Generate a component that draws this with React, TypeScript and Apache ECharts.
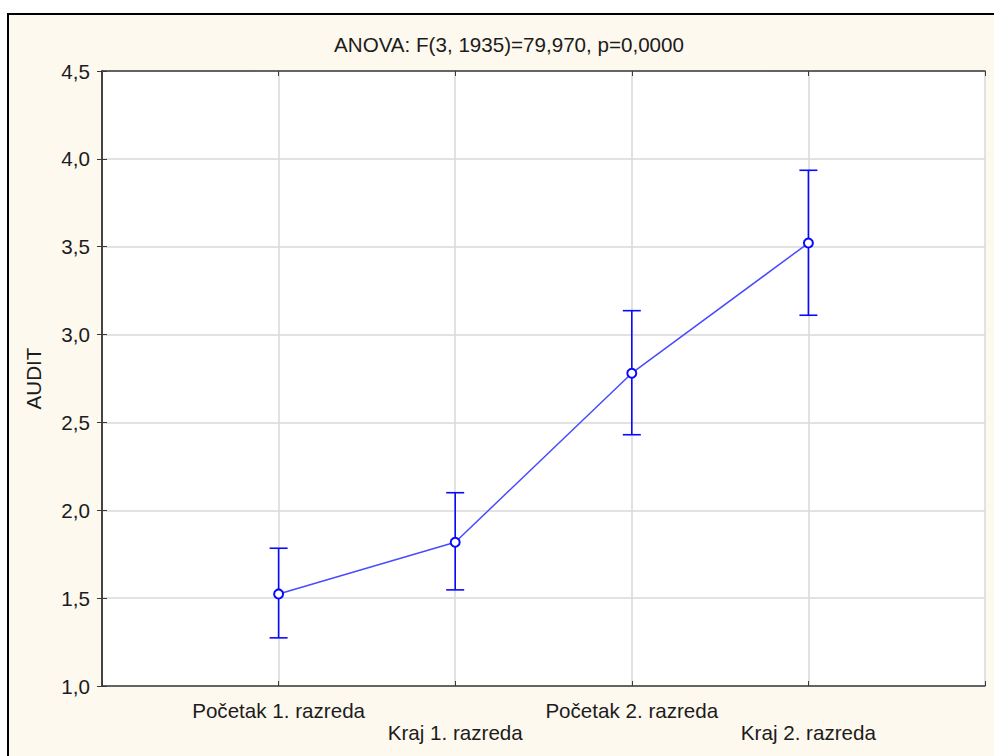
import React, { useEffect, useRef } from "react";
import * as echarts from "echarts";

const categories = ["Početak 1. razreda", "Kraj 1. razreda", "Početak 2. razreda", "Kraj 2. razreda"];
const means = [1.524, 1.818, 2.78, 3.521];
const lower = [1.274, 1.547, 2.43, 3.11];
const upper = [1.784, 2.1, 3.136, 3.935];
const yTicks = { min: 1.0, max: 4.5, step: 0.5 };
const titleText = "ANOVA: F(3, 1935)=79,970, p=0,0000";
const yName = "AUDIT";

const FONT = "Liberation Sans, Arial, sans-serif";
const FS = 20.6;
const TXT = "#1c1c1c";
const BLUE = "#0a0aff";

export default function App() {
  const ref = useRef<HTMLDivElement>(null);
  useEffect(() => {
    if (!ref.current) return;
    const chart = echarts.init(ref.current, null, { renderer: "svg" });
    const pos = categories.map((_, i) => i + 1);
    const lineData = means.map((m, i) => [pos[i], m]);
    const errData = means.map((_, i) => [pos[i], lower[i], upper[i]]);
    const axisLine = { show: true, lineStyle: { color: "#3a3a3a", width: 1.5 } };
    const tick = { show: true, inside: true, length: 5, lineStyle: { color: "#3a3a3a", width: 1 } };
    chart.setOption({
      animation: false,
      backgroundColor: "#ffffff",
      textStyle: { fontFamily: FONT },
      graphic: [
        {
          type: "rect",
          z: -100,
          shape: { x: 8, y: 14, width: 1010, height: 800 },
          style: { fill: "#fef9ee", stroke: "#000000", lineWidth: 2 },
        },
      ],
      title: {
        text: titleText,
        left: 504,
        textAlign: "center",
        top: 29,
        textStyle: { fontFamily: FONT, fontSize: FS, fontWeight: "normal", color: TXT },
      },
      grid: { left: 102, right: 9, top: 71, bottom: 70, show: true, backgroundColor: "#ffffff", borderWidth: 0 },
      xAxis: [
        {
          type: "value",
          min: 0,
          max: 5,
          interval: 1,
          position: "bottom",
          axisLine,
          axisTick: tick,
          splitLine: { show: true, lineStyle: { color: "#d9d9d9", width: 1.5 } },
          axisLabel: {
            margin: 13,
            fontSize: FS,
            lineHeight: 22,
            color: TXT,
            fontFamily: FONT,
            showMinLabel: true,
            showMaxLabel: true,
            formatter: (v: number) => {
              const i = Math.round(v) - 1;
              if (i < 0 || i >= categories.length) return "";
              return i % 2 === 0 ? categories[i] : "\n" + categories[i];
            },
          },
        },
        {
          type: "value",
          min: 0,
          max: 5,
          interval: 1,
          position: "top",
          axisLine,
          axisTick: tick,
          splitLine: { show: false },
          axisLabel: { show: false },
        },
      ],
      yAxis: [
        {
          type: "value",
          min: yTicks.min,
          max: yTicks.max,
          interval: yTicks.step,
          position: "left",
          name: yName,
          nameLocation: "middle",
          nameRotate: 90,
          nameGap: 58,
          nameTextStyle: { fontFamily: FONT, fontSize: FS, color: TXT },
          axisLine,
          axisTick: tick,
          splitLine: { show: true, lineStyle: { color: "#d9d9d9", width: 1.5 } },
          axisLabel: {
            margin: 12,
            fontSize: FS,
            color: TXT,
            fontFamily: FONT,
            formatter: (v: number) => v.toFixed(1).replace(".", ","),
          },
        },
        {
          type: "value",
          min: yTicks.min,
          max: yTicks.max,
          interval: yTicks.step,
          position: "right",
          axisLine,
          axisTick: tick,
          splitLine: { show: false },
          axisLabel: { show: false },
        },
      ],
      series: [
        {
          type: "custom",
          xAxisIndex: 0,
          yAxisIndex: 0,
          data: errData,
          encode: { x: 0, y: [1, 2] },
          z: 3,
          renderItem: (params: any, api: any) => {
            const x = api.value(0);
            const lo = api.coord([x, api.value(1)]);
            const hi = api.coord([x, api.value(2)]);
            const hw = 9;
            const style = { stroke: BLUE, lineWidth: 1.6 };
            return {
              type: "group",
              children: [
                { type: "line", shape: { x1: lo[0], y1: lo[1], x2: hi[0], y2: hi[1] }, style },
                { type: "line", shape: { x1: hi[0] - hw, y1: hi[1], x2: hi[0] + hw, y2: hi[1] }, style },
                { type: "line", shape: { x1: lo[0] - hw, y1: lo[1], x2: lo[0] + hw, y2: lo[1] }, style },
              ],
            };
          },
        },
        {
          type: "line",
          xAxisIndex: 0,
          yAxisIndex: 0,
          data: lineData,
          z: 4,
          symbol: "circle",
          symbolSize: 9,
          showSymbol: true,
          lineStyle: { color: "#4a4aff", width: 1.5 },
          itemStyle: { color: "#ffffff", borderColor: BLUE, borderWidth: 2 },
        },
      ],
    });
    return () => chart.dispose();
  }, []);
  return (
    <div
      ref={ref}
      style={{ position: "absolute", left: 0, top: 0, width: 994, height: 756 }}
    />
  );
}
